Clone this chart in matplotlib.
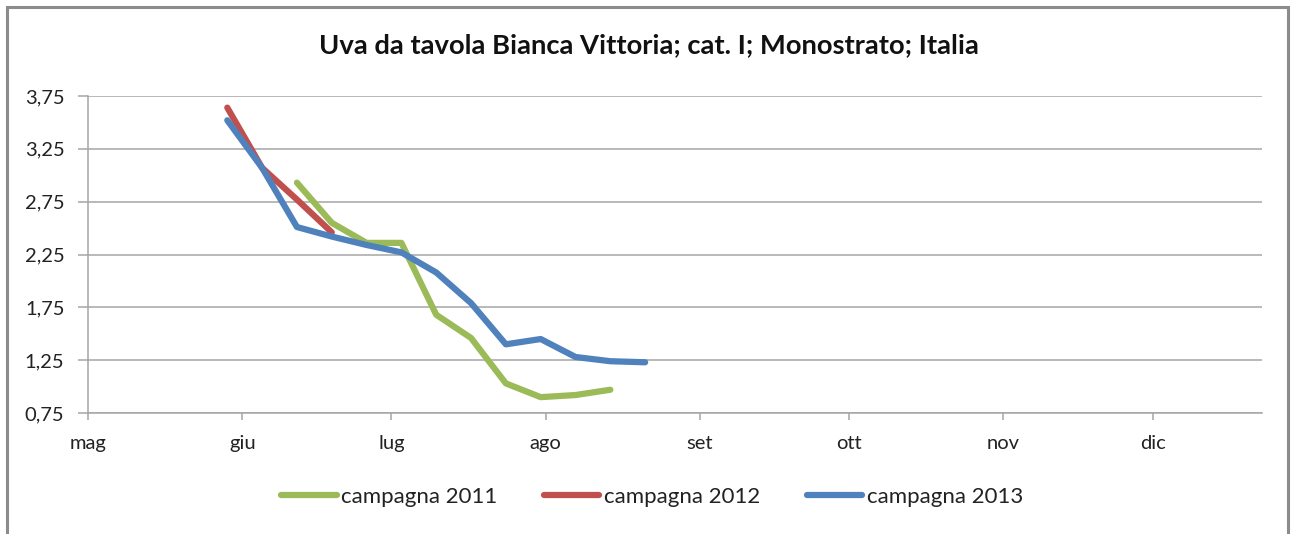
import matplotlib
matplotlib.use("Agg")
import matplotlib.pyplot as plt
from matplotlib.patches import Rectangle

# giorni dal 1 maggio, rilevazioni settimanali (euro/kg)
DAYS_2011 = [42, 49, 56, 63, 70, 77, 84, 91, 98, 105]
PRICE_2011 = [2.93, 2.55, 2.36, 2.36, 1.68, 1.46, 1.03, 0.90, 0.92, 0.97]

DAYS_2012 = [28, 35, 42, 49]
PRICE_2012 = [3.64, 3.07, 2.77, 2.46]

DAYS_2013 = [28, 35, 42, 49, 56, 63, 70, 77, 84, 91, 98, 105, 112]
PRICE_2013 = [3.52, 3.07, 2.51, 2.42, 2.34, 2.27, 2.08, 1.79, 1.40, 1.45, 1.28, 1.24, 1.23]

MONTH_START = [0, 31, 61, 92, 123, 153, 184, 214]
MONTH_LABELS = ["mag", "giu", "lug", "ago", "set", "ott", "nov", "dic"]
Y_TICKS = [0.75, 1.25, 1.75, 2.25, 2.75, 3.25, 3.75]

plt.rcParams["font.family"] = ["Lato", "DejaVu Sans"]

fig = plt.figure(figsize=(12.92, 5.34), dpi=100)
ax = fig.add_axes([88 / 1292, 1 - 413 / 534, (1262 - 88) / 1292, (413 - 96) / 534])

style = dict(lw=4.5, solid_capstyle="round", solid_joinstyle="round")
ax.plot(DAYS_2011, PRICE_2011, color="#9BBB59", label="campagna 2011", zorder=3, **style)
ax.plot(DAYS_2012, PRICE_2012, color="#C0504D", label="campagna 2012", zorder=3, **style)
ax.plot(DAYS_2013, PRICE_2013, color="#4F81BD", label="campagna 2013", zorder=4, **style)

ax.set_xlim(0, 236)
ax.set_ylim(0.75, 3.75)
ax.set_xticks(MONTH_START)
ax.set_xticklabels(MONTH_LABELS)
ax.set_yticks(Y_TICKS)
ax.set_yticklabels([f"{v:.2f}".replace(".", ",") for v in Y_TICKS])

grey = "#a6a6a6"
ax.grid(axis="y", color=grey, lw=1.1)
ax.set_axisbelow(True)
for side in ["right", "top"]:
    ax.spines[side].set_visible(False)
for side in ["left", "bottom"]:
    ax.spines[side].set_color(grey)
    ax.spines[side].set_linewidth(1.1)
ax.tick_params(axis="x", length=5, width=1.1, color=grey, labelsize=14.5,
               pad=11, labelcolor="#222222")
ax.tick_params(axis="y", length=7, width=1.1, color=grey, labelsize=14.5,
               pad=10, labelcolor="#222222")

fig.text(649 / 1292, 1 - 45 / 534, "Uva da tavola Bianca Vittoria; cat. I; Monostrato; Italia",
         ha="center", va="center", fontsize=19.7, fontweight="bold", color="#111111")

fig.legend(loc="center", bbox_to_anchor=(652 / 1292, 1 - 497 / 534), ncol=3, frameon=False,
           fontsize=16, handlelength=2.5, handletextpad=0.2, columnspacing=2.1,
           labelcolor="#222222")

# cornice grigia attorno al grafico
fig.patches.append(Rectangle((7 / 1292, -0.02), (1288 - 7) / 1292, 1 - 7 / 534 + 0.02,
                             transform=fig.transFigure, fill=False, ec="#8c8c8c", lw=2.2))

fig.savefig("out.png", dpi=100)
